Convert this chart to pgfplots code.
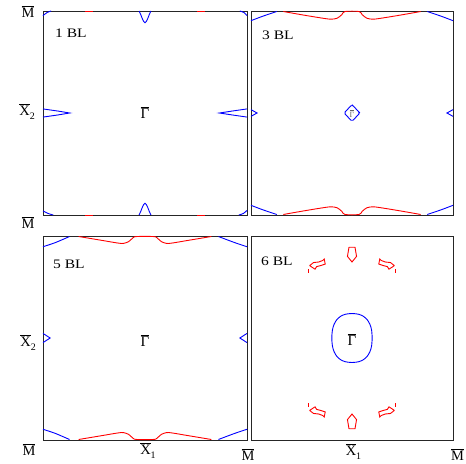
\documentclass[border=0pt]{standalone}
\usepackage{fontspec}
\setmainfont{Liberation Serif}
\newfontfamily\widefont[FakeStretch=1.2]{Liberation Serif}
\usepackage{pgfplots}
\pgfplotsset{compat=1.18}
\definecolor{fsblue}{RGB}{0,0,255}
\definecolor{fsred}{RGB}{255,0,0}

\pgfplotsset{
  bz/.style={width=204bp, height=204bp, scale only axis, anchor=north west,
    xmin=-1, xmax=1, ymin=-1, ymax=1, xtick=\empty, ytick=\empty, clip=false,
    axis line style={line width=0.9bp, black!85}},
  fs/.style={line width=0.9bp, no markers},
}
\newcommand{\Mb}{\fontsize{14.5}{15}\selectfont$\overline{\hbox{M}}$}
\newcommand{\Xb}[1]{\fontsize{14.5}{15}\selectfont$\overline{\hbox{X}}$\rlap{\raisebox{-4bp}{\fontsize{10}{10}\selectfont #1}}}
\newcommand{\Xbr}[1]{\fontsize{14.5}{15}\selectfont$\overline{\hbox{X}}$\raisebox{-4bp}{\fontsize{10}{10}\selectfont #1}}
\newcommand{\Gb}[1]{\fontsize{#1}{#1}\selectfont$\overline{\hbox{Γ}}$}
\newcommand{\BL}[1]{\widefont\fontsize{13}{13}\selectfont #1}

\begin{document}
\begin{tikzpicture}
\path[use as bounding box] (0,0) rectangle (466bp,-464bp);

% 1 BL
\begin{axis}[bz, at={(43bp,-11bp)}]
\addplot[fs, fsblue, smooth, tension=0.6] coordinates {(-0.058,1)(-0.04,0.96)(-0.022,0.915)(0,0.885)(0.022,0.915)(0.04,0.96)(0.058,1)};
\addplot[fs, fsblue, smooth, tension=0.6] coordinates {(-0.058,-1)(-0.04,-0.96)(-0.022,-0.915)(0,-0.885)(0.022,-0.915)(0.04,-0.96)(0.058,-1)};
\addplot[fs, fsblue] coordinates {(-1,0.04)(-0.86,0.02)(-0.74,0)(-0.86,-0.02)(-1,-0.04)};
\addplot[fs, fsblue] coordinates {(1,0.04)(0.86,0.02)(0.73,0)(0.86,-0.02)(1,-0.04)};
\addplot[fs, fsblue, smooth] coordinates {(-1,0.955)(-0.96,0.985)(-0.92,1)};
\addplot[fs, fsblue, smooth] coordinates {(0.93,1)(0.97,0.985)(1,0.955)};
\addplot[fs, fsblue, smooth] coordinates {(-1,-0.96)(-0.95,-0.985)(-0.9,-1)};
\addplot[fs, fsblue, smooth] coordinates {(0.92,-1)(0.965,-0.985)(1,-0.955)};
\addplot[fs, fsred] coordinates {(-0.59,1)(-0.51,1)};
\addplot[fs, fsred] coordinates {(0.51,1)(0.59,1)};
\addplot[fs, fsred] coordinates {(-0.59,-1)(-0.51,-1)};
\addplot[fs, fsred] coordinates {(0.51,-1)(0.59,-1)};
\end{axis}

% 3 BL
\begin{axis}[bz, at={(251bp,-11bp)}, width=202bp]
\addplot[fs, fsblue, smooth] coordinates {(-1,0.905)(-0.88,0.95)(-0.745,0.995)};
\addplot[fs, fsred, smooth, tension=0.5] coordinates {(-0.68,0.995)(-0.45,0.955)(-0.26,0.925)(-0.2,0.92)(-0.145,0.93)(-0.1,0.965)(-0.07,0.995)(0.07,0.995)(0.1,0.965)(0.145,0.93)(0.2,0.92)(0.26,0.925)(0.45,0.955)(0.68,0.995)};
\addplot[fs, fsblue, smooth] coordinates {(0.745,0.995)(0.88,0.95)(1,0.905)};
\addplot[fs, fsblue, smooth] coordinates {(-1,-0.905)(-0.88,-0.95)(-0.745,-0.995)};
\addplot[fs, fsred, smooth, tension=0.5] coordinates {(-0.68,-0.995)(-0.45,-0.955)(-0.26,-0.925)(-0.2,-0.92)(-0.145,-0.93)(-0.1,-0.965)(-0.07,-0.995)(0.07,-0.995)(0.1,-0.965)(0.145,-0.93)(0.2,-0.92)(0.26,-0.925)(0.45,-0.955)(0.68,-0.995)};
\addplot[fs, fsblue, smooth] coordinates {(0.745,-0.995)(0.88,-0.95)(1,-0.905)};
\addplot[fs, fsblue, rounded corners=1.5bp] coordinates {(0,0.082)(0.078,0)(0,-0.082)(-0.078,0)(0,0.082)(0.078,0)};
\addplot[fs, fsblue] coordinates {(-1,0.033)(-0.94,0)(-1,-0.033)};
\addplot[fs, fsblue] coordinates {(1,0.033)(0.94,0)(1,-0.033)};
\end{axis}

% 5 BL
\begin{axis}[bz, at={(43bp,-236bp)}]
\addplot[fs, fsblue, smooth] coordinates {(-1,0.895)(-0.88,0.935)(-0.74,0.995)};
\addplot[fs, fsred, smooth, tension=0.5] coordinates {(-0.65,0.995)(-0.44,0.96)(-0.26,0.93)(-0.21,0.928)(-0.16,0.945)(-0.115,0.985)(-0.08,0.995)(0.08,0.995)(0.115,0.985)(0.16,0.945)(0.21,0.928)(0.26,0.93)(0.44,0.96)(0.65,0.995)};
\addplot[fs, fsblue, smooth] coordinates {(0.72,0.995)(0.88,0.935)(1,0.895)};
\addplot[fs, fsblue, smooth] coordinates {(-1,-0.895)(-0.88,-0.935)(-0.74,-0.995)};
\addplot[fs, fsred, smooth, tension=0.5] coordinates {(-0.65,-0.995)(-0.44,-0.96)(-0.26,-0.93)(-0.21,-0.928)(-0.16,-0.945)(-0.115,-0.985)(-0.08,-0.995)(0.08,-0.995)(0.115,-0.985)(0.16,-0.945)(0.21,-0.928)(0.26,-0.93)(0.44,-0.96)(0.65,-0.995)};
\addplot[fs, fsblue, smooth] coordinates {(0.72,-0.995)(0.88,-0.935)(1,-0.895)};
\addplot[fs, fsblue] coordinates {(-1,0.045)(-0.93,0)(-1,-0.045)};
\addplot[fs, fsblue] coordinates {(1,0.045)(0.93,0)(1,-0.045)};
\end{axis}

% 6 BL
\begin{axis}[bz, at={(251bp,-236bp)}, width=202bp]
\addplot[fs, fsblue, smooth] coordinates {(0.2,0)(0.194,0.078)(0.177,0.135)(0.15,0.18)(0.112,0.213)(0.065,0.233)(0,0.24)(-0.065,0.233)(-0.112,0.213)(-0.15,0.18)(-0.177,0.135)(-0.194,0.078)(-0.2,0)(-0.194,-0.078)(-0.177,-0.135)(-0.15,-0.18)(-0.112,-0.213)(-0.065,-0.233)(0,-0.24)(0.065,-0.233)(0.112,-0.213)(0.15,-0.18)(0.177,-0.135)(0.194,-0.078)(0.2,0)};
\addplot[fs, fsred] coordinates {(-0.03,0.89)(0.03,0.89)(0.045,0.8)(0,0.745)(-0.045,0.8)(-0.03,0.89)};
\addplot[fs, fsred] coordinates {(-0.03,-0.89)(0.03,-0.89)(0.045,-0.8)(0,-0.745)(-0.045,-0.8)(-0.03,-0.89)};
\addplot[fs, fsred] coordinates {(-0.42,0.71)(-0.38,0.74)(-0.33,0.745)(-0.29,0.76)(-0.275,0.775)(-0.265,0.725)(-0.31,0.71)(-0.35,0.7)(-0.366,0.675)(-0.39,0.69)(-0.42,0.71)};
\addplot[fs, fsred] coordinates {(0.42,0.71)(0.38,0.74)(0.33,0.745)(0.29,0.76)(0.275,0.775)(0.265,0.725)(0.31,0.71)(0.35,0.7)(0.366,0.675)(0.39,0.69)(0.42,0.71)};
\addplot[fs, fsred] coordinates {(-0.42,-0.71)(-0.38,-0.74)(-0.33,-0.745)(-0.29,-0.76)(-0.275,-0.775)(-0.265,-0.725)(-0.31,-0.71)(-0.35,-0.7)(-0.366,-0.675)(-0.39,-0.69)(-0.42,-0.71)};
\addplot[fs, fsred] coordinates {(0.42,-0.71)(0.38,-0.74)(0.33,-0.745)(0.29,-0.76)(0.275,-0.775)(0.265,-0.725)(0.31,-0.71)(0.35,-0.7)(0.366,-0.675)(0.39,-0.69)(0.42,-0.71)};
\addplot[fs, fsred] coordinates {(-0.43,0.675)(-0.43,0.64)};
\addplot[fs, fsred] coordinates {(0.43,0.675)(0.43,0.64)};
\addplot[fs, fsred] coordinates {(-0.43,-0.675)(-0.43,-0.64)};
\addplot[fs, fsred] coordinates {(0.43,-0.675)(0.43,-0.64)};
\end{axis}

% panel labels
\node[anchor=base west, inner sep=0pt] at (55bp,-37bp) {\BL{1 BL}};
\node[anchor=base west, inner sep=0pt] at (262bp,-39bp) {\BL{3 BL}};
\node[anchor=base west, inner sep=0pt] at (53bp,-268bp) {\BL{5 BL}};
\node[anchor=base west, inner sep=0pt] at (261bp,-265bp) {\BL{6 BL}};

% symmetry points
\node[anchor=base, inner sep=0pt] at (145bp,-118bp) {\Gb{15}};
\node[anchor=base, inner sep=0pt, black!60] at (352bp,-117bp) {\Gb{8}};
\node[anchor=base, inner sep=0pt] at (145bp,-346bp) {\Gb{15}};
\node[anchor=base, inner sep=0pt] at (352bp,-345bp) {\Gb{15}};

% edge labels
\node[anchor=base, inner sep=0pt] at (28bp,-17.5bp) {\Mb};
\node[anchor=base east, inner sep=0pt] at (35bp,-115bp) {\Xbr{2}};
\node[anchor=base, inner sep=0pt] at (28bp,-228bp) {\Mb};
\node[anchor=base east, inner sep=0pt] at (36bp,-346bp) {\Xbr{2}};
\node[anchor=base, inner sep=0pt] at (29bp,-455bp) {\Mb};
\node[anchor=base, inner sep=0pt] at (145.5bp,-454bp) {\Xb{1}};
\node[anchor=base, inner sep=0pt] at (248bp,-460bp) {\Mb};
\node[anchor=base, inner sep=0pt] at (351bp,-455bp) {\Xb{1}};
\node[anchor=base, inner sep=0pt] at (457.5bp,-460bp) {\Mb};
\end{tikzpicture}
\end{document}
